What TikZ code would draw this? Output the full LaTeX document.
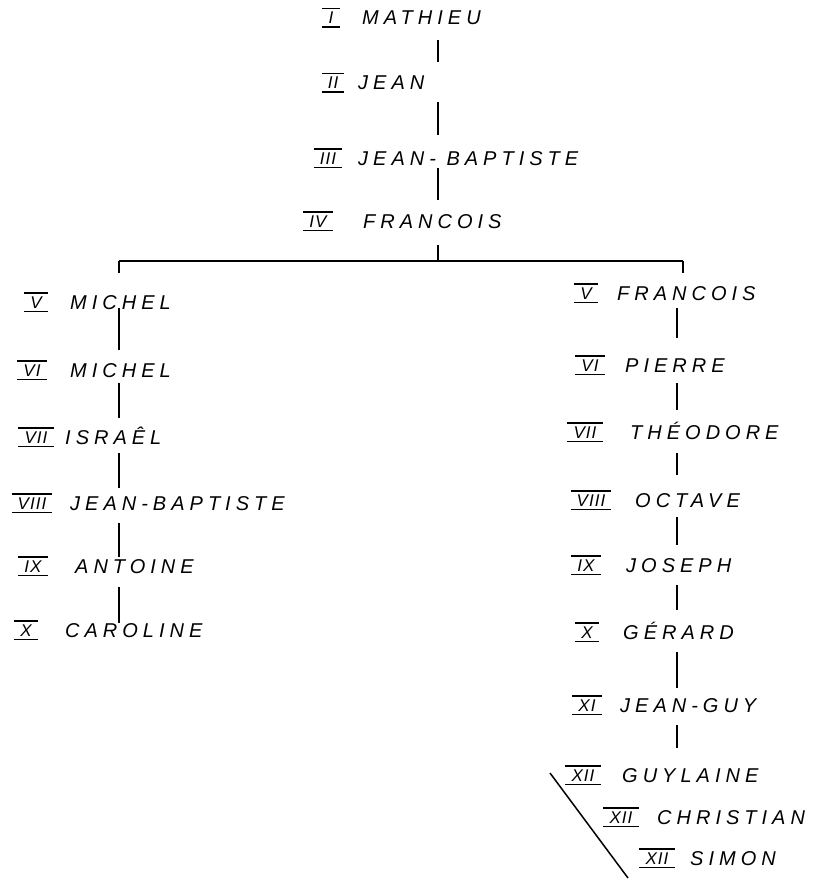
\documentclass[tikz,border=0pt]{standalone}
\usepackage{fontspec}
\setmainfont{Liberation Sans}[LetterSpace=25]
\newfontfamily\numfont{Liberation Sans}[LetterSpace=6]
\begin{document}
\begin{tikzpicture}[x=1pt,y=-1pt,
  nm/.style={anchor=west, font=\fontsize{20}{24}\selectfont\itshape, inner xsep=0pt, inner ysep=2pt, text height=14pt, text depth=0pt},
  rn/.style={font=\numfont\fontsize{17}{19}\selectfont\itshape, inner xsep=6pt, inner ysep=3pt, text height=12pt, text depth=0pt,
    append after command={(\tikzlastnode.north west) edge[numbar] (\tikzlastnode.north east)
                          (\tikzlastnode.south west) edge[numbar] (\tikzlastnode.south east)}},
  numbar/.style={line width=1.4pt},
  link/.style={line width=1.5pt}]
\fill[white] (0,0) rectangle (818,880);
\useasboundingbox (0,0) rectangle (818,880);
% columns
\coordinate (trunk) at (438,0);
\coordinate (colL) at (119,0);
\coordinate (colR) at (677,0);
\coordinate (barL) at (119,261);
\coordinate (barR) at (683,261);
\coordinate (dA) at (550,773);
\coordinate (dB) at (628,878);
% trunk
\node[rn] (r1) at (331,18) {I};   \node[nm] (t1) at (362,18) {MATHIEU};
\node[rn] (r2) at (333,83) {II};  \node[nm] (t2) at (358,83) {JEAN};
\node[rn] (r3) at (328,158) {III}; \node[nm] (t3) at (358,158) {JEAN- BAPTISTE};
\node[rn] (r4) at (318,221) {IV}; \node[nm] (t4) at (363,221) {FRANCOIS};
% left
\node[rn] (lr5) at (36,302) {V};    \node[nm] (l5) at (70,302) {MICHEL};
\node[rn] (lr6) at (32,370) {VI};   \node[nm] (l6) at (70,370) {MICHEL};
\node[rn] (lr7) at (36,437) {VII};  \node[nm] (l7) at (65,437) {ISRAÊL};
\node[rn] (lr8) at (32,503) {VIII}; \node[nm] (l8) at (70,503) {JEAN-BAPTISTE};
\node[rn] (lr9) at (33,566) {IX};   \node[nm] (l9) at (75,566) {ANTOINE};
\node[rn] (lr10) at (26,630) {X};   \node[nm] (l10) at (65,630) {CAROLINE};
% right
\node[rn] (rr5) at (586,293) {V};     \node[nm] (f5) at (617,293) {FRANCOIS};
\node[rn] (rr6) at (590,365) {VI};    \node[nm] (f6) at (625,365) {PIERRE};
\node[rn] (rr7) at (585,432) {VII};   \node[nm] (f7) at (630,432) {THÉODORE};
\node[rn] (rr8) at (591,500) {VIII};  \node[nm] (f8) at (635,500) {OCTAVE};
\node[rn] (rr9) at (586,565) {IX};    \node[nm] (f9) at (626,565) {JOSEPH};
\node[rn] (rr10) at (587,632) {X};    \node[nm] (f10) at (623,632) {GÉRARD};
\node[rn] (rr11) at (587,705) {XI};   \node[nm] (f11) at (620,705) {JEAN-GUY};
\node[rn] (rr12) at (583,775) {XII};  \node[nm] (f12) at (622,775) {GUYLAINE};
\node[rn] (rr13) at (621,817) {XII};  \node[nm] (f13) at (657,817) {CHRISTIAN};
\node[rn] (rr14) at (657,858) {XII};  \node[nm] (f14) at (690,858) {SIMON};
% trunk links
\draw[link, shorten <=13pt, shorten >=12pt] (t1.south -| trunk) -- (t2.north -| trunk);
\draw[link, shorten <=10pt, shorten >=14pt] (t2.south -| trunk) -- (t3.north -| trunk);
\draw[link, shorten <=1pt, shorten >=12pt] (t3.south -| trunk) -- (t4.north -| trunk);
\draw[link, shorten <=15pt] (t4.south -| trunk) -- (trunk |- barL);
\draw[link] (barL) -- (barR);
% left links
\draw[link, shorten >=20pt] (barL) -- (barL |- l5.north);
\draw[link, shorten <=-3pt, shorten >=11pt] (l5.south -| colL) -- (l6.north -| colL);
\draw[link, shorten <=4pt, shorten >=10pt] (l6.south -| colL) -- (l7.north -| colL);
\draw[link, shorten <=7pt, shorten >=6pt] (l7.south -| colL) -- (l8.north -| colL);
\draw[link, shorten <=11pt, shorten >=0pt] (l8.south -| colL) -- (l9.north -| colL);
\draw[link, shorten <=12pt, shorten >=-2pt] (l9.south -| colL) -- (l10.north -| colL);
% right links
\draw[link, shorten >=11pt] (barR) -- (barR |- f5.north);
\draw[link, shorten <=6pt, shorten >=18pt] (f5.south -| colR) -- (f6.north -| colR);
\draw[link, shorten <=9pt, shorten >=13pt] (f6.south -| colR) -- (f7.north -| colR);
\draw[link, shorten <=12pt, shorten >=16pt] (f7.south -| colR) -- (f8.north -| colR);
\draw[link, shorten <=8pt, shorten >=11pt] (f8.south -| colR) -- (f9.north -| colR);
\draw[link, shorten <=11pt, shorten >=13pt] (f9.south -| colR) -- (f10.north -| colR);
\draw[link, shorten <=11pt, shorten >=8pt] (f10.south -| colR) -- (f11.north -| colR);
\draw[link, shorten <=11pt, shorten >=18pt] (f11.south -| colR) -- (f12.north -| colR);
\draw[link] (dA) -- (dB);
\end{tikzpicture}
\end{document}
